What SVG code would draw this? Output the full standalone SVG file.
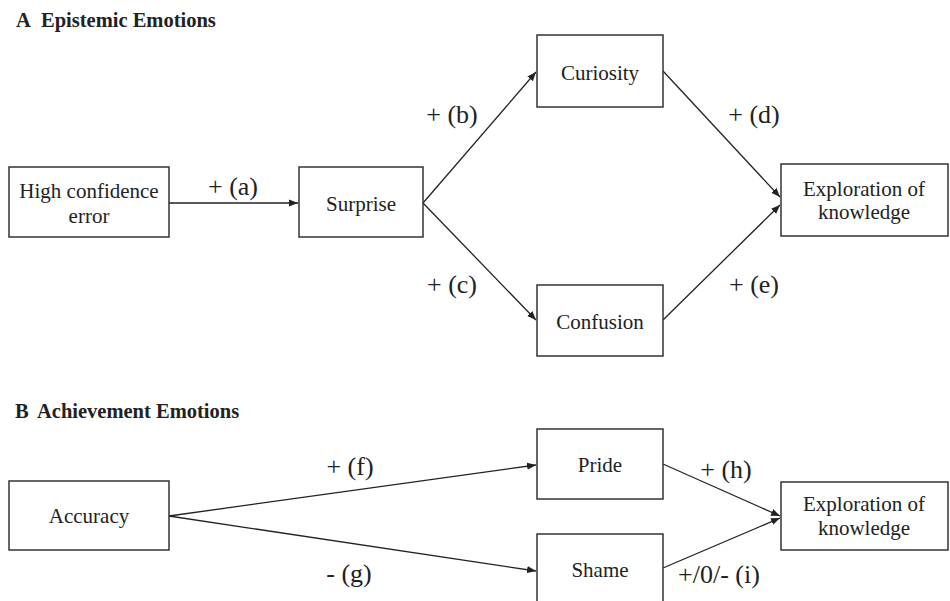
<svg xmlns="http://www.w3.org/2000/svg" width="950" height="601" viewBox="0 0 950 601">
<style>
.box{fill:#fff;stroke:#333;stroke-width:1.5}
.t{font-family:"Liberation Serif","Times New Roman",serif;font-size:21px;fill:#222;text-anchor:middle}
.lbl{font-family:"Liberation Serif","Times New Roman",serif;font-size:26px;fill:#222;text-anchor:middle}
.ttl{font-family:"Liberation Serif","Times New Roman",serif;font-size:20.5px;font-weight:bold;fill:#222}
.c{stroke:#222;stroke-width:1.3;fill:none;marker-end:url(#ah)}
</style>
<defs>
<marker id="ah" viewBox="0 0 10 10" refX="10" refY="5" markerWidth="9" markerHeight="9" markerUnits="userSpaceOnUse" orient="auto">
<path d="M0,1 L10,5 L0,9 z" fill="#222"/>
</marker>
</defs>
<rect width="950" height="601" fill="#fff"/>
<text class="ttl" y="27"><tspan x="16">A</tspan><tspan x="41">Epistemic Emotions</tspan></text>
<text class="ttl" y="418"><tspan x="15">B</tspan><tspan x="37">Achievement Emotions</tspan></text>

<g id="connectors">
<line class="c" x1="169" y1="203" x2="298" y2="203"/>
<line class="c" x1="423" y1="203" x2="536" y2="72"/>
<line class="c" x1="423" y1="203" x2="536" y2="320"/>
<line class="c" x1="663" y1="71" x2="780" y2="197"/>
<line class="c" x1="663" y1="320" x2="780" y2="205"/>
<line class="c" x1="169" y1="516" x2="536" y2="465"/>
<line class="c" x1="169" y1="516" x2="536" y2="571"/>
<line class="c" x1="663" y1="464" x2="780" y2="516"/>
<line class="c" x1="663" y1="568" x2="780" y2="518"/>
<text class="lbl" x="233" y="195">+ (a)</text>
<text class="lbl" x="452" y="123">+ (b)</text>
<text class="lbl" x="452" y="293">+ (c)</text>
<text class="lbl" x="754" y="123">+ (d)</text>
<text class="lbl" x="754" y="293">+ (e)</text>
<text class="lbl" x="350" y="475">+ (f)</text>
<text class="lbl" x="349" y="582">- (g)</text>
<text class="lbl" x="726" y="478">+ (h)</text>
<text class="lbl" x="719" y="583">+/0/- (i)</text>
</g>

<g id="high-confidence-error">
<rect class="box" x="9" y="167" width="160" height="70"/>
<text class="t" x="89" y="198">High confidence</text>
<text class="t" x="89" y="223">error</text>
</g>
<g id="surprise">
<rect class="box" x="299" y="167" width="124" height="70"/>
<text class="t" x="361" y="211">Surprise</text>
</g>
<g id="curiosity">
<rect class="box" x="537" y="35" width="126" height="72"/>
<text class="t" x="600" y="80">Curiosity</text>
</g>
<g id="confusion">
<rect class="box" x="537" y="285" width="126" height="71"/>
<text class="t" x="600" y="329">Confusion</text>
</g>
<g id="exploration-a">
<rect class="box" x="781" y="164" width="167" height="72"/>
<text class="t" x="864" y="196">Exploration of</text>
<text class="t" x="864" y="219">knowledge</text>
</g>
<g id="accuracy">
<rect class="box" x="9" y="481" width="160" height="69"/>
<text class="t" x="89" y="523">Accuracy</text>
</g>
<g id="pride">
<rect class="box" x="537" y="429" width="126" height="70"/>
<text class="t" x="600" y="472">Pride</text>
</g>
<g id="shame">
<rect class="box" x="537" y="534" width="126" height="80"/>
<text class="t" x="600" y="577">Shame</text>
</g>
<g id="exploration-b">
<rect class="box" x="781" y="482" width="167" height="68"/>
<text class="t" x="864" y="511">Exploration of</text>
<text class="t" x="864" y="535">knowledge</text>
</g>
</svg>
